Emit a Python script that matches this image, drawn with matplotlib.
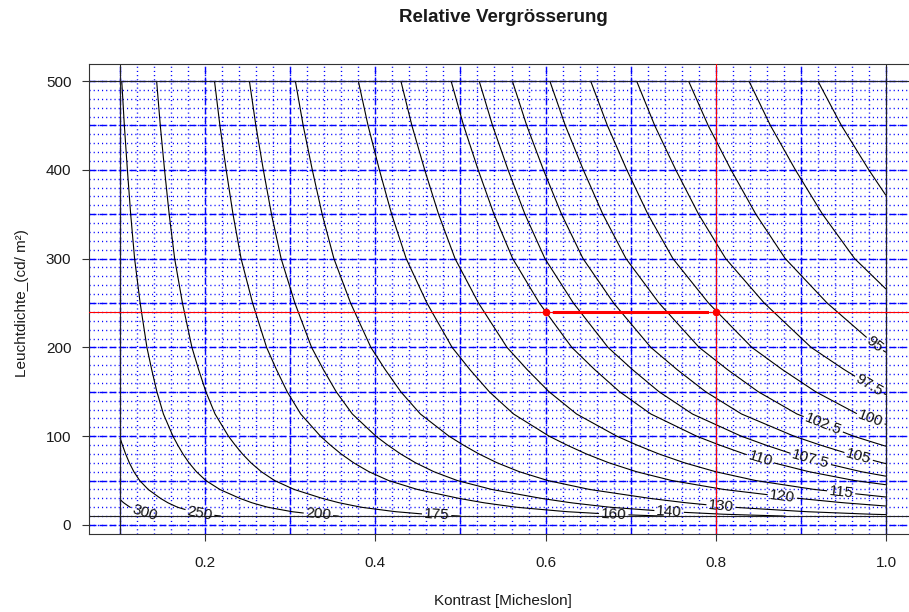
import numpy as np
import matplotlib.pyplot as plt

plt.rcParams['font.family'] = ['Liberation Sans', 'DejaVu Sans']

# contour levels (relative magnification) and the contrast where each one
# crosses the top of the data range (L = 500 cd/m2)
level_text = ['300', '250', '200', '175', '160', '140', '130', '120', '115', '110',
              '107.5', '105', '102.5', '100', '97.5', '95', '92.5', '90']
contrast_at_500 = [0.0417, 0.0625, 0.102, 0.143, 0.211, 0.252, 0.306, 0.380, 0.430,
                   0.489, 0.522, 0.561, 0.605, 0.653, 0.707, 0.768, 0.839, 0.920]

# factor by which every contour moves to higher contrast as luminance drops
# (same for all lines, read from where they cross the grid)
lum_pts = [10, 12, 15, 20, 25, 30, 40, 50, 60, 70, 80, 90, 100,
           125, 150, 175, 200, 250, 300, 350, 400, 450, 500]
shift_pts = [3.50, 3.22, 2.96, 2.68, 2.50, 2.36, 2.13, 1.97, 1.86, 1.775, 1.705, 1.645, 1.59,
             1.48, 1.405, 1.345, 1.29, 1.212, 1.148, 1.103, 1.065, 1.03, 1.0]

# where the labels sit
label_pos = {'300': (0.129, 14.6), '250': (0.194, 14.6), '200': (0.333, 11.3),
             '175': (0.472, 11.3), '160': (0.68, 11.3), '140': (0.745, 12.4),
             '130': (0.806, 18.0), '120': (0.878, 30.4), '115': (0.947, 33.8),
             '110': (0.852, 73.2), '107.5': (0.912, 75.5), '105': (0.968, 77.7),
             '102.5': (0.926, 112.6), '100': (0.982, 119.4), '97.5': (0.982, 160.0),
             '95': (0.989, 206.0)}

# data range of the grid
c_range = [0.1, 1.0]
l_range = [10, 500]

# red reference marks
ref_lum = 240
ref_contrast = [0.6, 0.8]
arrow_contrast = [0.61, 0.79]

fig = plt.figure(figsize=(9.09, 6.12), dpi=100)
ax = fig.add_axes([89.4 / 909, 1 - 533.5 / 612, (916.6 - 89.4) / 909, (533.5 - 63.6) / 612])
ax.set_xlim(0.064, 1.036)
ax.set_ylim(-9.6, 519.6)

# blue helper grid
dotted = (0, (0.8, 2.2))
dashed = (0, (5.0, 2.2))
grid_kw = dict(color='#0000ff', lw=1.0, zorder=1)
for x in np.arange(0.1, 1.0001, 0.02):
    ax.axvline(x, ls=dotted, **grid_kw)
for x in np.arange(0.1, 1.0001, 0.1):
    ax.axvline(x, ls=dashed, **grid_kw)
for y in np.arange(0, 500.1, 10):
    ax.axhline(y, ls=dotted, **grid_kw)
for y in np.arange(0, 500.1, 50):
    ax.axhline(y, ls=dashed, **grid_kw)

# contour field
cc, ll = np.meshgrid(np.linspace(c_range[0], c_range[1], 700),
                     np.linspace(l_range[0], l_range[1], 700))
u = cc / np.interp(ll, lum_pts, shift_pts)
cs = ax.contour(cc, ll, u, levels=contrast_at_500, colors='black',
                linewidths=0.8, zorder=2)

fmt = {c: t for c, t in zip(contrast_at_500, level_text)}
lab_levels = [c for c, t in zip(contrast_at_500, level_text) if t in label_pos]
positions = [label_pos[fmt[c]] for c in lab_levels]
ax.clabel(cs, levels=lab_levels, inline=True, inline_spacing=2, fontsize=11,
          fmt=fmt, manual=positions, colors='#111111')

# data range frame
for x in c_range:
    ax.axvline(x, color='#222222', lw=0.8, zorder=2.5)
for y in l_range:
    ax.axhline(y, color='#222222', lw=0.8, zorder=2.5)

# red markers
ax.axvline(ref_contrast[1], color='red', lw=0.8, zorder=3)
ax.axhline(ref_lum, color='red', lw=0.8, zorder=3)
ax.plot(arrow_contrast, [ref_lum, ref_lum], color='red', lw=2.2, zorder=3)
ax.plot(ref_contrast, [ref_lum, ref_lum], 'o', color='red', ms=4.5, zorder=4)

ax.set_xticks([0.2, 0.4, 0.6, 0.8, 1.0])
ax.set_xticklabels(['0.2', '0.4', '0.6', '0.8', '1.0'])
ax.set_yticks([0, 100, 200, 300, 400, 500])
ax.tick_params(axis='both', direction='out', length=5, width=0.8, color='#333333',
               labelsize=11, labelcolor='#1a1a1a')
ax.tick_params(axis='x', pad=11)
ax.tick_params(axis='y', pad=8)
for s in ax.spines.values():
    s.set_color('#333333')
    s.set_linewidth(0.8)

fig.text(503 / 909, 1 - 18 / 612, 'Relative Vergrösserung', ha='center', va='center',
         fontsize=13.5, fontweight='bold', color='#1a1a1a')
fig.text(503 / 909, 1 - 601 / 612, 'Kontrast [Micheslon]', ha='center', va='center',
         fontsize=11, color='#1a1a1a')
fig.text(22 / 909, 1 - 303 / 612, 'Leuchtdichte_(cd/ m²)', ha='center', va='center',
         rotation=90, fontsize=11, color='#1a1a1a')

fig.savefig('out.png', dpi=100)
